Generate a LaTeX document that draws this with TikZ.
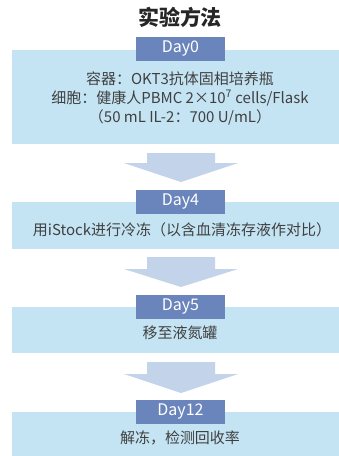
\documentclass[tikz,border=0pt]{standalone}
\usepackage{fontspec}
\setmainfont{Noto Sans CJK SC}
\usepackage{xcolor}
\usetikzlibrary{positioning}
\definecolor{tagblue}{HTML}{6A84BC}
\definecolor{boxblue}{HTML}{C4E4F3}
\definecolor{flowblue}{HTML}{C3D3E9}
\definecolor{textgray}{HTML}{404040}
\definecolor{titlegray}{HTML}{262626}

\begin{document}
\begin{tikzpicture}
	[x=1pt, y=-1pt,
	 box/.style = {fill=boxblue, minimum width=327pt, inner sep=0pt},
	 txt/.style = {text=textgray, align=center, font=\fontsize{15}{19}\selectfont},
	 tag/.style = {fill=tagblue, minimum width=89pt, minimum height=24pt, inner sep=0pt, text=white, font=\fontsize{16}{16}\selectfont},
	 flow/.style = {fill=flowblue}]
	\useasboundingbox (0,0) rectangle (339,456);
	\node[text=titlegray, font=\fontsize{21}{21}\selectfont\bfseries] (title) at (180,17) {实验方法};
	\node[box, minimum height=94pt] (b0) at (175.5,97) {};
	\node[box, minimum height=47pt] (b4) at (175.5,225.5) {};
	\node[box, minimum height=46pt] (b5) at (175.5,330) {};
	\node[box, minimum height=44pt] (b12) at (175.5,434) {};
	\node[tag] (d0) at (180.5,49) {Day0};
	\node[tag] (d4) at (180.5,201.5) {Day4};
	\node[tag] (d5) at (180.5,307) {Day5};
	\node[tag] (d12) at (180.5,412) {Day12};
	\node[txt] (t0) at (180,98) {容器：OKT3抗体固相培养瓶\\细胞：健康人PBMC 2×10\textsuperscript{7} cells/Flask\\（50 mL IL-2：700 U/mL）};
	\node[txt] (t4) at (182,230) {用iStock进行冷冻（以含血清冻存液作对比）};
	\node[txt] (t5) at (180,333) {移至液氮罐};
	\node[txt] (t12) at (180,438) {解冻，检测回收率};
	% block arrows between the steps
	\foreach \top/\base/\tip in {153/163/182, 257/269/287, 362/374/393}
		\fill[flow] (147,\top) -- (215,\top) -- (215,\base) -- (238,\base) -- (181,\tip) -- (124,\base) -- (147,\base) -- cycle;
\end{tikzpicture}
\end{document}
